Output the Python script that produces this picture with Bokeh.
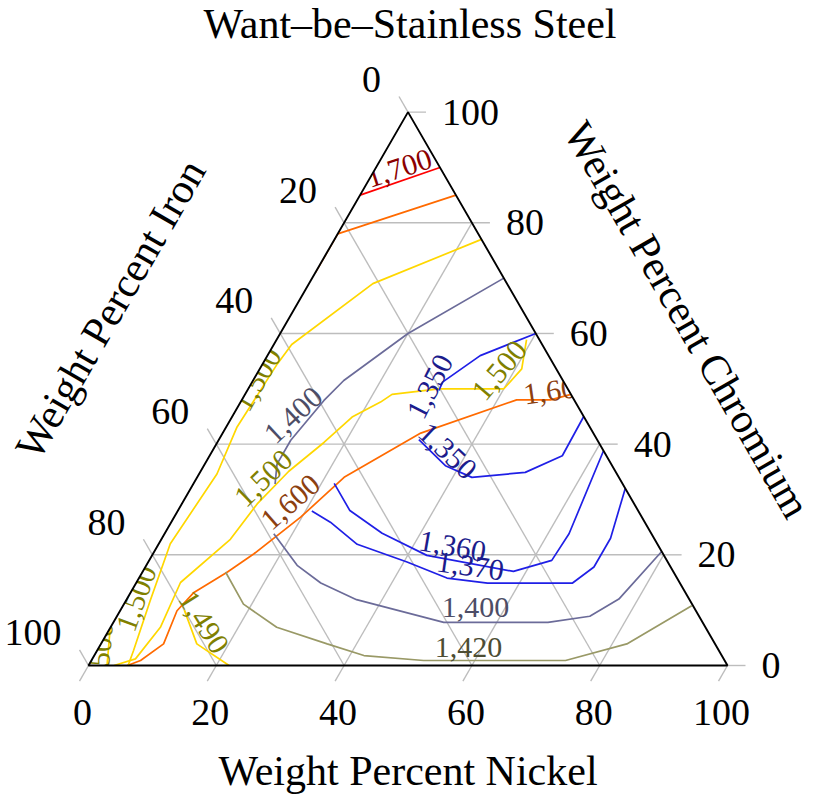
import math
from bokeh.plotting import figure
from bokeh.models import Range1d, ColumnDataSource
from bokeh.core.properties import value
from bokeh.embed import file_html
from bokeh.resources import INLINE

# ------------------------------------------------------------------ data
chart_title = "Want–be–Stainless Steel"
ni_title = "Weight Percent Nickel"
fe_title = "Weight Percent Iron"
cr_title = "Weight Percent Chromium"
tick_values = [0, 20, 40, 60, 80, 100]
tick_labels = ["0", "20", "40", "60", "80", "100"]

# contour polylines, given as (weight % nickel, weight % chromium); iron = 100 - Ni - Cr
c1700_ni = [0, 10]
c1700_cr = [85, 90]

c1600a_ni = [15, 0, 0]
c1600a_cr = [85, 78, 71]

c1600b_ni = [51, 48.3, 43, 31, 23, 19.8, 15.8, 13.3, 9.9, 8.9, 9.8, 7.7, 6.1]
c1600b_cr = [49, 48, 48, 42, 34, 26.8, 20.2, 16.9, 13.2, 9.9, 3.9, 0.9, 0]

c1500a_ni = [23, 10, 2.8, 2.3, 1.7, 2.8, 1.8, 3.8, 5.7, 6.2]
c1500a_cr = [77, 69, 58, 54.5, 43, 34.6, 22, 11.7, 2.7, 0]

c1500b_ni = [39.1, 41, 40, 29.8, 23, 21.9, 18.8, 16.7, 13.8, 11.8, 10.8, 6.9, 7.8, 6.75, 4.0]
c1500b_cr = [58.9, 53.6, 50, 50, 49, 47.6, 44.9, 40.3, 35.1, 29.2, 22.8, 15, 6.9, 1.2, 0]

c1500c_ni = [0, 2.9]
c1500c_cr = [6.8, 0]

c1490_ni = [10, 15, 22]
c1490_cr = [10, 3.9, 0]

c1420_ni = [89, 82.3, 74.2, 52, 42.2, 35.4, 26, 18.7, 13]
c1420_cr = [10.8, 3.9, 0.9, 0.9, 1.8, 3.9, 6.9, 11.1, 16.9]

c1400a_ni = [30, 20, 14.2, 12.9, 11.3, 11.3, 12.8]
c1400a_cr = [70, 60, 51.5, 47.9, 40.7, 36.4, 32.8]

c1400b_ni = [79.4, 77, 74, 68, 51.7, 36, 28.9, 23.6, 17.1]
c1400b_cr = [20.6, 12, 8.9, 7.8, 7.8, 11.9, 14.9, 18.1, 23.8]

c1370_ni = [21, 24.9, 31.1, 40.5, 48.2, 55, 68.3, 70.2, 70.2, 68]
c1370_cr = [27.9, 25.9, 21.9, 18.7, 15.8, 14.9, 14.9, 17.8, 23, 32]

c1360_ni = [22, 26.9, 34, 43, 58, 63, 63.3, 61.2]
c1360_cr = [32.9, 28, 23.9, 19.9, 17, 19, 23.8, 38.8]

c1350a_ni = [40, 33.3, 29.8, 30]
c1350a_cr = [60, 56, 51.2, 49.7]

c1350b_ni = [55, 55.2, 50.9, 43, 37.8, 31.3]
c1350b_cr = [45, 37.9, 34.9, 34, 36.1, 40.8]

contours = [
    (1700, c1700_ni, c1700_cr),
    (1600, c1600a_ni, c1600a_cr),
    (1600, c1600b_ni, c1600b_cr),
    (1500, c1500a_ni, c1500a_cr),
    (1500, c1500b_ni, c1500b_cr),
    (1500, c1500c_ni, c1500c_cr),
    (1490, c1490_ni, c1490_cr),
    (1420, c1420_ni, c1420_cr),
    (1400, c1400a_ni, c1400a_cr),
    (1400, c1400b_ni, c1400b_cr),
    (1370, c1370_ni, c1370_cr),
    (1360, c1360_ni, c1360_cr),
    (1350, c1350a_ni, c1350a_cr),
    (1350, c1350b_ni, c1350b_cr),
]

# contour labels: level, anchor (Ni, Cr), rotation in degrees
label_level = [1700, 1600, 1600, 1500, 1500, 1500, 1500, 1500, 1490, 1400, 1400, 1420, 1350, 1350, 1360, 1370]
label_ni = [3.7, 48.5, 16.9, 0.6, 10.5, 37.7, 1.5, 1.0, 14.1, 9.5, 55.3, 57.8, 28.3, 36.8, 46.2, 50.8]
label_cr = [89.8, 49.7, 29.5, 51.7, 33.8, 53.3, 12.1, 1.8, 7.8, 45.2, 10.5, 3.3, 50.4, 38.7, 21.5, 17.9]
label_rot = [18, 8, 41, 60, 44, 50, 70, 85, -58, 43, 0, 0, 63, -43, -10, -8]

# ------------------------------------------------------------------ styles
line_color = {1700: "#ff0000", 1600: "#ff6a00", 1500: "#ffd700", 1490: "#ffd700",
              1420: "#999966", 1400: "#6b6b99", 1370: "#1f1fe6", 1360: "#1f1fe6",
              1350: "#1f1fe6"}
text_color = {1700: "#8b0000", 1600: "#8c4010", 1500: "#808000", 1490: "#808000",
              1420: "#4d4d33", 1400: "#4d4d66", 1370: "#1c1c8c", 1360: "#1c1c8c",
              1350: "#1c1c8c"}

FONT = value("Liberation Serif")
W, H = 821, 795
S = 6.39          # pixels per percent
LEFT_PX, BASE_PX = 88, 665
SQ = math.sqrt(3) / 2
T = 18 / S        # tick length in data units


def tern(ni, cr):
    return ni + cr / 2.0, cr * SQ


def tern_list(nis, crs):
    pts = [tern(a, b) for a, b in zip(nis, crs)]
    return [p[0] for p in pts], [p[1] for p in pts]


x0, x1 = -LEFT_PX / S, (W - LEFT_PX) / S
y0, y1 = -(H - BASE_PX) / S, BASE_PX / S

p = figure(width=W, height=H, x_range=Range1d(x0, x1), y_range=Range1d(y0, y1),
           output_backend="svg", toolbar_location=None, min_border=0,
           x_axis_location=None, y_axis_location=None, outline_line_color=None,
           background_fill_color="white", border_fill_color="white")
p.xgrid.visible = False
p.ygrid.visible = False

GRID = "#bdbdbd"

# inner grid
gx, gy = [], []
for a in tick_values[1:-1]:
    for (n1, c1), (n2, c2) in [((0, a), (100 - a, a)),
                               ((a, 0), (a, 100 - a)),
                               ((0, 100 - a), (100 - a, 0))]:
        xa, ya = tern(n1, c1)
        xb, yb = tern(n2, c2)
        gx.append([xa, xb])
        gy.append([ya, yb])
p.multi_line(gx, gy, line_color=GRID, line_width=1.4)

# contours
for lev, nis, crs in contours:
    xs, ys = tern_list(nis, crs)
    p.line(xs, ys, line_color=line_color[lev], line_width=1.7)

# contour labels
lx, ly = tern_list(label_ni, label_cr)
lsrc = ColumnDataSource(dict(
    x=lx, y=ly,
    text=["{:,}".format(v) for v in label_level],
    angle=[math.radians(r) for r in label_rot],
    color=[text_color[v] for v in label_level]))
p.text(x="x", y="y", text="text", angle="angle", text_color="color", source=lsrc,
       text_font=FONT, text_font_size=value("30px"), text_align="center",
       text_baseline="middle")

# mask everything outside the triangle (clips the labels)
tri_x = [0, 100, 50]
tri_y = [0, 0, 100 * SQ]
p.multi_polygons(xs=[[[[x0 - 1, x1 + 1, x1 + 1, x0 - 1], tri_x]]],
                 ys=[[[[y0 - 1, y0 - 1, y1 + 1, y1 + 1], tri_y]]],
                 fill_color="white", line_color=None)

# ticks
tx, ty = [], []
for a in tick_values:
    xa, ya = tern(100 - a, a)           # chromium, to the right
    tx.append([xa, xa + T]); ty.append([ya, ya])
    xa, ya = tern(a, 0)                 # nickel, down-left
    tx.append([xa, xa - T / 2]); ty.append([ya, ya - T * SQ])
    xa, ya = tern(0, 100 - a)           # iron, up-left
    tx.append([xa, xa - T / 2]); ty.append([ya, ya + T * SQ])
p.multi_line(tx, ty, line_color=GRID, line_width=1.4)

# triangle border
p.patch(tri_x, tri_y, fill_color=None, line_color="black", line_width=1.9)

# tick labels
k = 1 / S
bx = [tern(a, 0)[0] - 6 * k for a in tick_values]
by = [-47 * k for a in tick_values]
p.text(bx, by, text=tick_labels, text_font=FONT, text_font_size=value("38px"),
       text_align="center", text_baseline="middle", text_color="black")

rx = [tern(100 - a, a)[0] + T + 16 * k for a in tick_values]
ry = [tern(100 - a, a)[1] for a in tick_values]
p.text(rx, ry, text=tick_labels, text_font=FONT, text_font_size=value("38px"),
       text_align="left", text_baseline="middle", text_color="black")

fx = [tern(0, 100 - a)[0] - T / 2 - 18 * k for a in tick_values]
fy = [tern(0, 100 - a)[1] + T * SQ + 17 * k for a in tick_values]
p.text(fx, fy, text=tick_labels, text_font=FONT, text_font_size=value("38px"),
       text_align="right", text_baseline="middle", text_color="black")

# axis titles
top_x, top_y = 50 + 2 * k, 100 * SQ + 88 * k
bot_x, bot_y = 50, -105 * k
mlx, mly = tern(0, 50)
mrx, mry = tern(50, 50)
left_off, right_off = 159 * k, 138 * k
titles_x = [top_x, bot_x, mlx - left_off * SQ, mrx + right_off * SQ]
titles_y = [top_y, bot_y, mly + left_off * 0.5, mry + right_off * 0.5]
p.text(titles_x, titles_y, text=[chart_title, ni_title, fe_title, cr_title],
       angle=[0, 0, math.pi / 3, -math.pi / 3],
       text_font=FONT, text_font_size=value("42px"), text_align="center",
       text_baseline="middle", text_color="black")

open("out.html", "w").write(file_html(p, INLINE))
